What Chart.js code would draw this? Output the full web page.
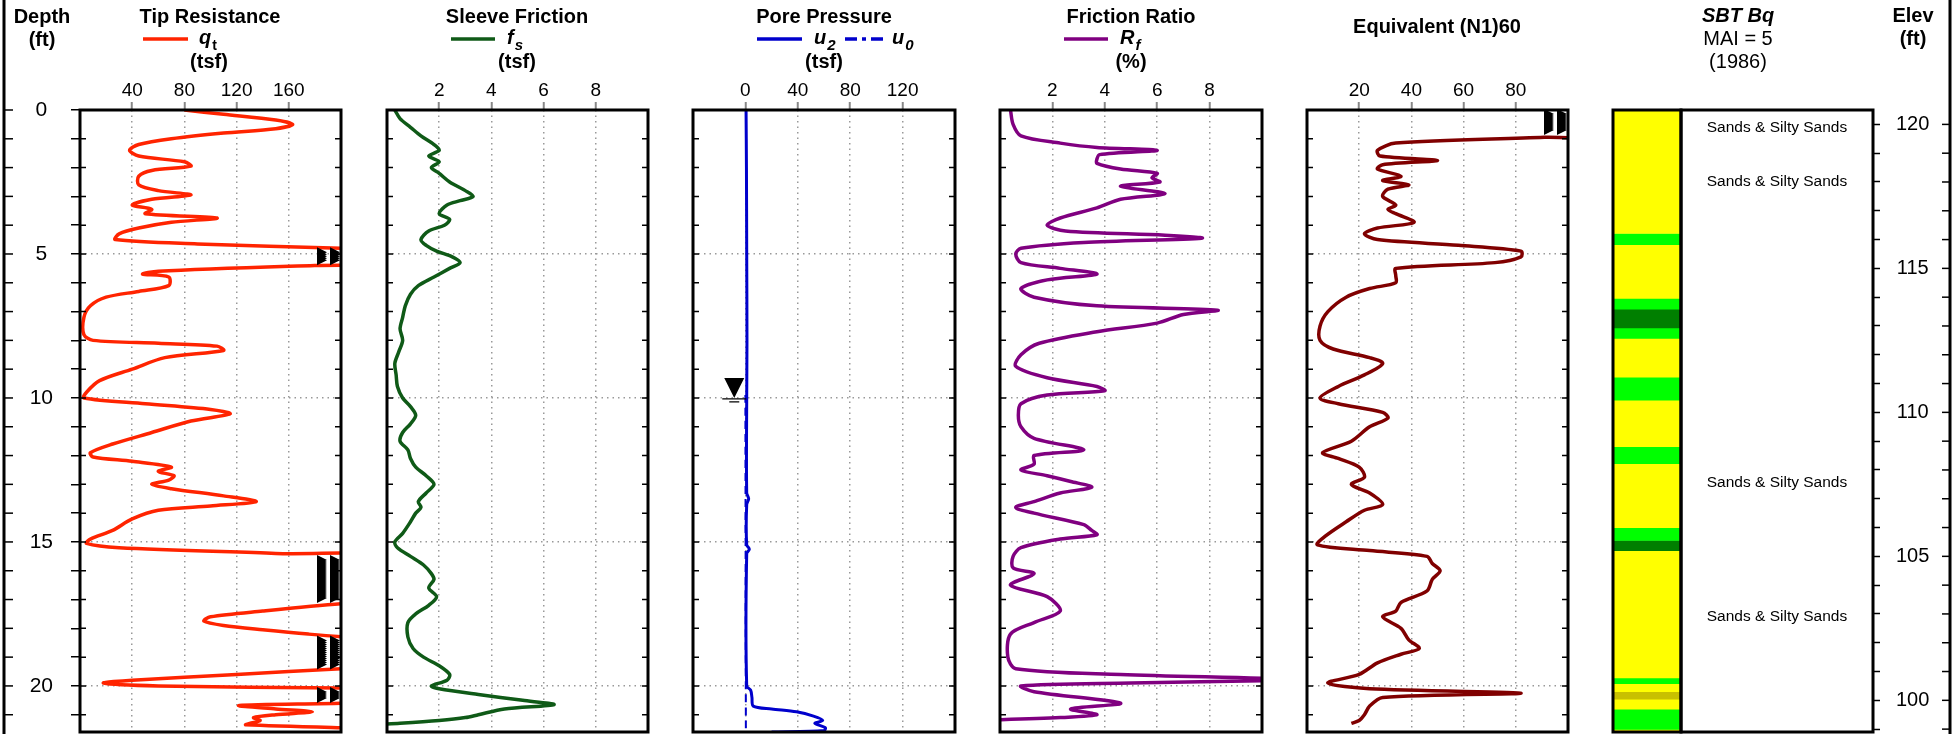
<!DOCTYPE html>
<html>
<head>
<meta charset="utf-8">
<script src="https://cdn.jsdelivr.net/npm/chart.js@4.4.1/dist/chart.umd.min.js"></script>
<style>
  body { margin: 0; background: #fff; }
  #wrap { position: relative; width: 1954px; height: 734px; }
  #wrap canvas { position: absolute; left: 0; top: 0; }
</style>
</head>
<body>
<div id="wrap">
  <canvas id="cQt" width="1954" height="734"></canvas>
  <canvas id="cFs" width="1954" height="734"></canvas>
  <canvas id="cU" width="1954" height="734"></canvas>
  <canvas id="cRf" width="1954" height="734"></canvas>
  <canvas id="cN" width="1954" height="734"></canvas>
  <canvas id="cSbt" width="1954" height="734"></canvas>
  <canvas id="cDesc" width="1954" height="734"></canvas>
</div>
<script>
const FONT = "'Liberation Sans', Arial, Helvetica, sans-serif";
Chart.defaults.font.family = FONT;

// profundidad / elevacion
const depthMax = 21.6;
const depthLabels = [0, 5, 10, 15, 20];
const depthGridLines = [5, 10, 15, 20];
const groundElev = 120.5;
const elevLabels = [100, 105, 110, 115, 120];

// Tip Resistance qt (tsf)
const qtTicks = [40, 80, 120, 160];
const qtDepth = [0.0, 0.15, 0.35, 0.5, 0.65, 0.8, 1.0, 1.2, 1.4, 1.6, 1.8, 1.95, 2.1, 2.3, 2.6, 2.8, 2.95, 3.1, 3.3, 3.45,
  3.6, 3.75, 3.9, 4.1, 4.3, 4.5, 4.65, 4.8, 4.9, 5.3, 5.4, 5.6, 5.7, 5.8, 6.1, 6.3, 6.5, 6.8, 7.2, 7.8,
  8.0, 8.1, 8.2, 8.35, 8.6, 9.0, 9.4, 9.8, 10.0, 10.2, 10.4, 10.55, 10.8, 11.2, 11.6, 11.9, 12.05, 12.2, 12.4, 12.55,
  12.7, 12.85, 13.0, 13.15, 13.4, 13.6, 13.75, 13.9, 14.2, 14.6, 14.9, 15.05, 15.2, 15.4, 15.6, 17.0, 17.15, 17.4, 17.6, 17.75,
  17.9, 18.05, 18.2, 18.35, 18.4, 19.3, 19.4, 19.6, 19.8, 19.9, 20.0, 20.07, 20.1, 20.5, 20.6, 20.68, 20.8, 20.9, 21.0, 21.1,
  21.2, 21.3, 21.35, 21.45, 21.5, 21.6];
const qtValue = [80, 110, 150, 163, 150, 110, 70, 45, 38, 45, 80, 85, 55, 45, 45, 60, 85, 55, 40, 55,
  50, 105, 70, 45, 30, 27, 90, 200, 260, 260, 180, 60, 48, 68, 68, 45, 20, 8, 3, 3,
  10, 60, 105, 110, 65, 40, 15, 5, 3, 50, 100, 115, 85, 55, 25, 8, 10, 40, 70, 60,
  72, 68, 55, 70, 110, 135, 100, 60, 40, 25, 8, 5, 30, 150, 260, 260, 200, 140, 100, 95,
  110, 140, 175, 220, 260, 260, 200, 120, 40, 18, 60, 200, 260, 260, 200, 122, 150, 178, 150, 133,
  138, 130, 127, 200, 260, 260];

// Sleeve Friction fs (tsf)
const fsTicks = [2, 4, 6, 8];
const fsDepth = [0.0, 0.3, 0.6, 0.9, 1.2, 1.4, 1.6, 1.8, 2.0, 2.2, 2.5, 2.8, 3.0, 3.15, 3.3, 3.6, 3.8, 4.0, 4.2, 4.5,
  4.7, 4.9, 5.1, 5.3, 5.5, 5.8, 6.1, 6.4, 6.8, 7.2, 7.6, 8.0, 8.4, 8.8, 9.2, 9.6, 10.0, 10.3, 10.6, 10.9,
  11.2, 11.5, 11.8, 12.1, 12.4, 12.7, 13.0, 13.3, 13.6, 13.8, 14.0, 14.3, 14.7, 15.0, 15.2, 15.5, 15.8, 16.1, 16.3, 16.6,
  16.9, 17.2, 17.5, 17.8, 18.3, 18.7, 19.0, 19.3, 19.6, 19.8, 20.0, 20.1, 20.3, 20.5, 20.65, 20.8, 21.0, 21.1, 21.2, 21.3, 21.35];
const fsValue = [0.3, 0.5, 0.9, 1.3, 1.8, 2.0, 1.6, 2.0, 1.7, 2.0, 2.4, 3.0, 3.3, 2.8, 2.3, 2.0, 2.4, 2.2, 1.6, 1.3,
  1.5, 1.9, 2.5, 2.8, 2.4, 1.8, 1.2, 0.9, 0.7, 0.6, 0.5, 0.6, 0.45, 0.3, 0.35, 0.4, 0.6, 0.9, 1.1, 0.9,
  0.6, 0.5, 0.8, 0.9, 1.1, 1.5, 1.8, 1.5, 1.2, 1.3, 1.1, 0.9, 0.6, 0.3, 0.4, 0.9, 1.4, 1.7, 1.8, 1.6,
  1.9, 1.6, 1.1, 0.8, 0.8, 1.0, 1.4, 2.0, 2.4, 2.3, 1.7, 2.0, 3.5, 5.2, 6.4, 4.5, 3.5, 3.0, 2.0, 0.5, -0.5];

// Pore Pressure u2 / u0 (tsf)
const uTicks = [0, 40, 80, 120];
const u2Depth = [0.0, 2.0, 5.0, 8.0, 10.0, 13.3, 13.5, 13.7, 15.1, 15.25, 15.4, 20.0, 20.15, 20.4, 20.7, 20.8, 20.9, 21.05, 21.2, 21.3,
  21.45, 21.55, 21.6];
const u2Value = [0.5, 0.8, 1, 1.2, 1, 1, 2.5, 1, 1, 3, 1, 1, 4, 5, 6, 20, 39, 52, 59, 53,
  61, 60, 20];
const u0Depth = [9.9, 21.6];
const u0Value = [0, 0.36];
const waterTableDepth = 10.0;

// Friction Ratio Rf (%)
const rfTicks = [2, 4, 6, 8];
const rfDepth = [0.0, 0.5, 0.9, 1.15, 1.3, 1.4, 1.55, 1.7, 1.85, 2.05, 2.2, 2.35, 2.5, 2.65, 2.9, 3.1, 3.4, 3.75, 4.0, 4.2,
  4.35, 4.45, 4.6, 4.8, 5.0, 5.3, 5.5, 5.7, 5.9, 6.2, 6.5, 6.8, 6.95, 7.1, 7.4, 7.7, 8.1, 8.5, 8.9, 9.3,
  9.6, 9.75, 9.9, 10.2, 10.6, 11.0, 11.4, 11.8, 12.0, 12.3, 12.5, 12.7, 12.9, 13.1, 13.3, 13.6, 13.8, 14.0, 14.4, 14.6,
  14.75, 14.9, 15.2, 15.5, 15.9, 16.1, 16.5, 16.9, 17.4, 17.8, 18.2, 19.0, 19.4, 19.6, 19.75, 19.8, 19.9, 20.0, 20.2, 20.6,
  20.8, 21.0, 21.1, 21.2];
const rfValue = [0.4, 0.5, 0.8, 2.3, 3.7, 6.0, 3.8, 3.7, 3.7, 4.6, 6.0, 5.8, 6.1, 4.6, 6.3, 4.6, 3.7, 2.3, 1.8, 2.5,
  6.3, 7.7, 3.2, 0.8, 0.6, 0.8, 2.3, 3.7, 1.8, 0.8, 1.3, 3.7, 8.3, 7.0, 6.0, 3.7, 1.5, 0.8, 0.6, 1.8,
  3.7, 4.0, 1.8, 0.8, 0.7, 0.8, 1.3, 3.2, 1.3, 1.3, 0.8, 1.8, 2.7, 3.5, 2.3, 1.3, 0.6, 1.3, 3.2, 3.5,
  3.7, 2.3, 0.8, 0.5, 0.5, 1.3, 0.4, 1.8, 2.3, 1.3, 0.4, 0.3, 0.6, 4.6, 10.5, 11, 5, 0.8, 1.3, 4.6,
  2.7, 3.7, 2.3, -1];

// Equivalent (N1)60
const nTicks = [20, 40, 60, 80];
const nDepth = [0.0, 0.85, 0.95, 1.15, 1.4, 1.6, 1.75, 1.9, 2.05, 2.3, 2.45, 2.6, 2.75, 3.0, 3.3, 3.45, 3.6, 3.9, 4.1, 4.3,
  4.5, 4.7, 4.9, 5.1, 5.3, 5.5, 5.75, 6.0, 6.2, 6.5, 7.0, 7.5, 8.0, 8.3, 8.6, 8.8, 9.2, 9.6, 10.0, 10.2,
  10.5, 10.7, 11.0, 11.5, 11.9, 12.1, 12.4, 12.75, 13.0, 13.3, 13.7, 13.9, 14.3, 14.8, 15.1, 15.3, 15.5, 15.75, 16.0, 16.3,
  16.7, 17.1, 17.4, 17.6, 18.0, 18.4, 18.7, 18.9, 19.2, 19.6, 19.9, 20.1, 20.25, 20.4, 20.7, 21.0, 21.2, 21.3];
const nValue = [110, 110, 91, 34, 27, 28, 50, 29, 27, 36, 29, 39, 31, 29, 34, 31, 34, 41, 27, 22,
  27, 58, 82, 82, 72, 34, 34, 34, 24, 15, 8, 5, 5, 10, 24, 29, 22, 12, 5, 12,
  29, 31, 24, 17, 6, 12, 20, 22, 17, 24, 29, 22, 15, 7, 4, 24, 46, 48, 51, 48,
  46, 36, 34, 29, 36, 39, 43, 36, 27, 20, 8, 24, 82, 29, 24, 22, 20, 17];

// SBT Bq (Robertson 1986) capas
const sbtBounds = [0, 4.29, 4.68, 6.54, 6.92, 7.57, 7.93, 9.28, 10.08, 11.69, 12.28, 14.50, 14.95, 15.30, 19.72, 19.92, 20.20, 20.46, 20.81, 21.51, 21.6];
const sbtColors = ['#ffff00', '#00ff00', '#ffff00', '#00ff00', '#007f00', '#00ff00', '#ffff00', '#00ff00', '#ffff00', '#00ff00',
  '#ffff00', '#00ff00', '#007f00', '#ffff00', '#00ff00', '#ffff00', '#c8c000', '#ffff00', '#00ff00', '#ffff00'];
const sbtLabelDepths = [0.6, 2.5, 12.95, 17.6];
const sbtLabelText = ['Sands & Silty Sands', 'Sands & Silty Sands', 'Sands & Silty Sands', 'Sands & Silty Sands'];

const W = 1954, TOP = 110, BOTTOM = 732;

function pts(d, v) { return d.map((dd, i) => ({ x: v[i], y: dd })); }

// tramos donde la curva sale de la escala
function offScaleRuns(d, v, max) {
  const runs = [];
  let start = null;
  for (let i = 0; i < d.length; i++) {
    const over = v[i] > max;
    if (over && start === null) {
      start = i === 0 ? d[0] : d[i - 1] + (d[i] - d[i - 1]) * (max - v[i - 1]) / (v[i] - v[i - 1]);
    }
    if (!over && start !== null) {
      runs.push([start, d[i - 1] + (d[i] - d[i - 1]) * (v[i - 1] - max) / (v[i - 1] - v[i])]);
      start = null;
    }
  }
  if (start !== null) runs.push([start, d[d.length - 1]]);
  return runs;
}

function noPad(s) { s.paddingTop = 0; s.paddingBottom = 0; s.paddingLeft = 0; s.paddingRight = 0; }

function text(ctx, s, x, y, font, align) {
  ctx.font = font;
  ctx.textAlign = align || 'center';
  ctx.textBaseline = 'alphabetic';
  ctx.fillStyle = '#000';
  ctx.fillText(s, x, y);
}
function symbol(ctx, main, sub, x, y, subFont) {
  text(ctx, main, x, y, 'italic bold 20px ' + FONT, 'left');
  const w = ctx.measureText(main).width;
  text(ctx, sub, x + w + 1, y + 6, subFont, 'left');
}
function legendLine(ctx, x1, x2, y, color, dash) {
  ctx.save();
  ctx.strokeStyle = color;
  ctx.lineWidth = 3.5;
  ctx.setLineDash(dash || []);
  ctx.beginPath(); ctx.moveTo(x1, y); ctx.lineTo(x2, y); ctx.stroke();
  ctx.restore();
}

function panelPlugin(cfg) {
  return {
    id: 'panel' + cfg.name,
    afterDatasetsDraw(chart) {
      const { ctx, chartArea: a, scales } = chart;
      const y = scales.y;
      ctx.save();
      // flechas fuera de escala
      ctx.save();
      ctx.beginPath(); ctx.rect(a.left, a.top, a.right - a.left, a.bottom - a.top); ctx.clip();
      ctx.fillStyle = '#000';
      (cfg.offRuns || []).forEach(([d0, d1]) => {
        const p0 = y.getPixelForValue(d0), p1 = y.getPixelForValue(d1);
        for (let p = p0 + 4; p <= p1 - 4; p += 2) {
          [a.right - 24, a.right - 11].forEach(x0 => {
            ctx.beginPath(); ctx.moveTo(x0, p - 5); ctx.lineTo(x0 + 10, p); ctx.lineTo(x0, p + 5); ctx.closePath(); ctx.fill();
          });
        }
      });
      ctx.restore();
      // marco
      ctx.strokeStyle = '#000';
      ctx.lineWidth = 3;
      ctx.strokeRect(a.left, a.top, a.right - a.left, a.bottom - a.top);
      if (cfg.edgeTicks) {
        ctx.lineWidth = 1.5;
        for (let dd = 1; dd < depthMax; dd++) {
          const py = y.getPixelForValue(dd);
          ctx.beginPath();
          ctx.moveTo(a.left, py); ctx.lineTo(a.left + 6, py);
          ctx.moveTo(a.right, py); ctx.lineTo(a.right - 6, py);
          ctx.stroke();
        }
      }
      if (cfg.draw) cfg.draw(chart, ctx, a);
      ctx.restore();
    }
  };
}

function xScale(min, max, ticks) {
  return {
    type: 'linear', position: 'top', min: min, max: max,
    afterBuildTicks: s => { s.ticks = ticks.map(v => ({ value: v })); },
    afterFit: s => { s.height = TOP; noPad(s); },
    ticks: { font: { size: 19 }, color: '#000', padding: 0, autoSkip: false, maxRotation: 0 },
    grid: { color: '#999', lineWidth: 1.5, tickLength: 8, tickColor: '#888', tickWidth: 2 },
    border: { display: false, dash: [1.5, 4] }
  };
}
function yScale() {
  return {
    type: 'linear', min: 0, max: depthMax, reverse: true,
    afterBuildTicks: s => { s.ticks = depthGridLines.map(v => ({ value: v })); },
    afterFit: s => { s.width = 0; noPad(s); },
    ticks: { display: false },
    grid: { color: '#999', lineWidth: 1.5, drawTicks: false },
    border: { display: false, dash: [1.5, 4] }
  };
}

function linePanel(id, left, right, xMin, xMax, xTicks, datasets, cfg, yOverride) {
  const padLeft = yOverride ? 0 : left;
  return new Chart(document.getElementById(id), {
    type: 'line',
    data: { datasets: datasets },
    options: {
      responsive: false, animation: false, indexAxis: 'y',
      layout: { padding: { left: padLeft, right: W - right, top: 0, bottom: 734 - BOTTOM } },
      plugins: { legend: { display: false }, tooltip: { enabled: false } },
      elements: { point: { radius: 0 }, line: { borderWidth: 3.5, tension: 0.3 } },
      scales: { x: xScale(xMin, xMax, xTicks), y: yOverride || yScale() }
    },
    plugins: [panelPlugin(Object.assign({ name: id, edgeTicks: true }, cfg))]
  });
}

// --- Tip Resistance ---
linePanel('cQt', 80, 341, 0, 200, qtTicks,
  [{ data: pts(qtDepth, qtValue), borderColor: '#ff2400' }],
  {
    offRuns: offScaleRuns(qtDepth, qtValue, 200),
    draw(chart, ctx) {
      text(ctx, 'Depth', 42, 23, 'bold 20px ' + FONT);
      text(ctx, '(ft)', 42, 46, 'bold 20px ' + FONT);
      text(ctx, 'Tip Resistance', 210, 23, 'bold 20px ' + FONT);
      legendLine(ctx, 143, 188, 39, '#ff2400');
      symbol(ctx, 'q', 't', 199, 44, 'bold 14px ' + FONT);
      text(ctx, '(tsf)', 209, 68, 'bold 20px ' + FONT);
      // eje de profundidad exterior
      const y = chart.scales.y;
      ctx.strokeStyle = '#000';
      ctx.lineWidth = 3;
      ctx.beginPath(); ctx.moveTo(4, 0); ctx.lineTo(4, 734); ctx.stroke();
      ctx.lineWidth = 1.5;
      for (let dd = 0; dd < depthMax; dd++) {
        const py = y.getPixelForValue(dd);
        ctx.beginPath(); ctx.moveTo(4, py); ctx.lineTo(13, py); ctx.stroke();
      }
    }
  },
  {
    type: 'linear', min: 0, max: depthMax, reverse: true,
    afterBuildTicks: s => {
      const t = [];
      for (let dd = 0; dd < depthMax; dd++) t.push({ value: dd });
      s.ticks = t;
    },
    afterFit: s => { s.width = 80; noPad(s); },
    ticks: {
      font: { size: 21 }, color: '#000', padding: 18, crossAlign: 'center', autoSkip: false,
      callback: v => depthLabels.includes(v) ? String(v) : ''
    },
    grid: {
      color: c => depthGridLines.includes(c.tick.value) ? '#999' : 'rgba(0,0,0,0)',
      lineWidth: 1.5, tickLength: 9, tickColor: '#000', tickWidth: 1.5
    },
    border: { display: false, dash: [1.5, 4] }
  });

// --- Sleeve Friction ---
linePanel('cFs', 387, 648, 0, 10, fsTicks,
  [{ data: pts(fsDepth, fsValue), borderColor: '#0f5a17' }],
  {
    draw(chart, ctx) {
      text(ctx, 'Sleeve Friction', 517, 23, 'bold 20px ' + FONT);
      legendLine(ctx, 451, 495, 39, '#0f5a17');
      symbol(ctx, 'f', 's', 507, 44, 'italic bold 15px ' + FONT);
      text(ctx, '(tsf)', 517, 68, 'bold 20px ' + FONT);
    }
  });

// --- Pore Pressure ---
linePanel('cU', 693, 955, -40, 160, uTicks,
  [
    { data: pts(u0Depth, u0Value), borderColor: '#0000cc', borderWidth: 2, borderDash: [8, 5] },
    { data: pts(u2Depth, u2Value), borderColor: '#0000cc', borderWidth: 3 }
  ],
  {
    draw(chart, ctx) {
      text(ctx, 'Pore Pressure', 824, 23, 'bold 20px ' + FONT);
      legendLine(ctx, 757, 802, 39, '#0000cc');
      symbol(ctx, 'u', '2', 814, 44, 'italic bold 15px ' + FONT);
      legendLine(ctx, 845, 888, 39, '#0000cc', [12, 5, 4, 5]);
      symbol(ctx, 'u', '0', 892, 44, 'italic bold 15px ' + FONT);
      text(ctx, '(tsf)', 824, 68, 'bold 20px ' + FONT);
      // nivel freatico
      const px = chart.scales.x.getPixelForValue(-8.5);
      const py = chart.scales.y.getPixelForValue(waterTableDepth);
      ctx.fillStyle = '#000';
      ctx.beginPath(); ctx.moveTo(px - 10, py - 20); ctx.lineTo(px + 10, py - 20); ctx.lineTo(px, py); ctx.closePath(); ctx.fill();
      ctx.strokeStyle = '#000'; ctx.lineWidth = 1.2;
      ctx.beginPath(); ctx.moveTo(px - 12, py + 1); ctx.lineTo(px + 12, py + 1);
      ctx.moveTo(px - 5, py + 4); ctx.lineTo(px + 5, py + 4); ctx.stroke();
    }
  });

// --- Friction Ratio ---
linePanel('cRf', 1000, 1262, 0, 10, rfTicks,
  [{ data: pts(rfDepth, rfValue), borderColor: '#800080' }],
  {
    offRuns: offScaleRuns(rfDepth, rfValue, 10),
    draw(chart, ctx) {
      text(ctx, 'Friction Ratio', 1131, 23, 'bold 20px ' + FONT);
      legendLine(ctx, 1064, 1108, 39, '#800080');
      symbol(ctx, 'R', 'f', 1120, 44, 'italic bold 15px ' + FONT);
      text(ctx, '(%)', 1131, 68, 'bold 20px ' + FONT);
    }
  });

// --- Equivalent (N1)60 ---
linePanel('cN', 1307, 1568, 0, 100, nTicks,
  [{ data: pts(nDepth, nValue), borderColor: '#800000' }],
  {
    offRuns: offScaleRuns(nDepth, nValue, 100),
    draw(chart, ctx) {
      text(ctx, 'Equivalent (N1)60', 1437, 33, 'bold 20px ' + FONT);
    }
  });

// --- SBT column ---
new Chart(document.getElementById('cSbt'), {
  type: 'bar',
  data: {
    labels: ['SBT'],
    datasets: sbtColors.map((c, i) => ({
      data: [[sbtBounds[i], sbtBounds[i + 1]]],
      backgroundColor: c, borderWidth: 0, grouped: false,
      barPercentage: 1, categoryPercentage: 1
    }))
  },
  options: {
    responsive: false, animation: false,
    layout: { padding: { left: 1613, right: W - 1681, top: TOP, bottom: 734 - BOTTOM } },
    plugins: { legend: { display: false }, tooltip: { enabled: false } },
    scales: {
      x: { display: false },
      y: { display: false, min: 0, max: depthMax, reverse: true }
    }
  },
  plugins: [panelPlugin({ name: 'sbt', edgeTicks: false })]
});

// --- descripcion + elevacion ---
new Chart(document.getElementById('cDesc'), {
  type: 'line',
  data: { datasets: [] },
  options: {
    responsive: false, animation: false,
    layout: { padding: { left: 1681, right: 0, top: TOP, bottom: 734 - BOTTOM } },
    plugins: { legend: { display: false }, tooltip: { enabled: false } },
    scales: {
      x: { type: 'linear', display: false, min: 0, max: 1 },
      y: { type: 'linear', display: false, min: 0, max: depthMax, reverse: true },
      elev: {
        type: 'linear', position: 'right', min: groundElev - depthMax, max: groundElev,
        afterBuildTicks: s => {
          const t = [];
          for (let e = Math.ceil(groundElev - depthMax); e <= groundElev; e++) t.push({ value: e });
          s.ticks = t;
        },
        afterFit: s => { s.width = W - 1873; noPad(s); },
        ticks: {
          font: { size: 20 }, color: '#000', padding: 16, crossAlign: 'center', autoSkip: false,
          callback: v => elevLabels.includes(v) ? String(v) : ''
        },
        grid: { drawOnChartArea: false, tickLength: 7, tickColor: '#000', tickWidth: 1.5 },
        border: { display: false }
      }
    }
  },
  plugins: [panelPlugin({
    name: 'desc', edgeTicks: false,
    draw(chart, ctx, a) {
      const y = chart.scales.y;
      sbtLabelText.forEach((s, i) => {
        ctx.font = '15.5px ' + FONT;
        ctx.textAlign = 'center';
        ctx.textBaseline = 'middle';
        ctx.fillStyle = '#000';
        ctx.fillText(s, (a.left + a.right) / 2, y.getPixelForValue(sbtLabelDepths[i]));
      });
      text(ctx, 'SBT Bq', 1738, 22, 'italic bold 20px ' + FONT);
      text(ctx, 'MAI = 5', 1738, 45, '20px ' + FONT);
      text(ctx, '(1986)', 1738, 68, '20px ' + FONT);
      text(ctx, 'Elev', 1913, 22, 'bold 20px ' + FONT);
      text(ctx, '(ft)', 1913, 45, 'bold 20px ' + FONT);
      // eje exterior derecho
      const e = chart.scales.elev;
      ctx.strokeStyle = '#000';
      ctx.lineWidth = 3;
      ctx.beginPath(); ctx.moveTo(1950, 0); ctx.lineTo(1950, 734); ctx.stroke();
      ctx.lineWidth = 1.5;
      e.ticks.forEach(t => {
        const py = e.getPixelForValue(t.value);
        ctx.beginPath(); ctx.moveTo(1950, py); ctx.lineTo(1942, py); ctx.stroke();
      });
    }
  })]
});
</script>
</body>
</html>
